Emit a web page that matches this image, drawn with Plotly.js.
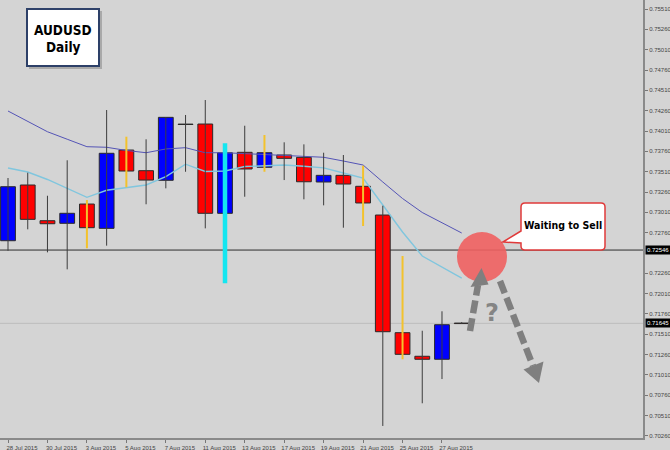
<!DOCTYPE html>
<html><head><meta charset="utf-8">
<script src="https://cdn.plot.ly/plotly-3.0.1.min.js"></script>
<style>html,body{margin:0;padding:0;background:#d4d4d4;}#chart{width:670px;height:450px;}</style>
</head><body><div id="chart"></div>
<script>
// ---- data ----
const dates = ['28 Jul 2015','29 Jul 2015','30 Jul 2015','31 Jul 2015','3 Aug 2015','4 Aug 2015','5 Aug 2015','6 Aug 2015','7 Aug 2015','10 Aug 2015','11 Aug 2015','12 Aug 2015','13 Aug 2015','14 Aug 2015','17 Aug 2015','18 Aug 2015','19 Aug 2015','20 Aug 2015','21 Aug 2015','24 Aug 2015','25 Aug 2015','26 Aug 2015','27 Aug 2015','28 Aug 2015'];
const open  = [0.72661,0.73346,0.72907,0.72875,0.73112,0.72813,0.73776,0.73522,0.73404,0.74095,0.74096,0.72998,0.73748,0.73564,0.73715,0.73686,0.73383,0.73465,0.73330,0.72977,0.71530,0.71240,0.71203,0.71648];
const high  = [0.73432,0.73497,0.73214,0.73650,0.73161,0.74268,0.73940,0.73908,0.74182,0.74207,0.74391,0.73859,0.74075,0.73961,0.73871,0.73846,0.73743,0.73715,0.73583,0.73091,0.72473,0.71554,0.71793,0.71660];
const low   = [0.72538,0.72801,0.72518,0.72309,0.72568,0.72600,0.73318,0.73109,0.73305,0.73509,0.72813,0.72137,0.73202,0.73509,0.73407,0.73170,0.73096,0.72821,0.72842,0.70383,0.71203,0.70662,0.70960,0.71640];
const close = [0.73325,0.72924,0.72870,0.72998,0.72821,0.73736,0.73518,0.73407,0.74178,0.74090,0.72998,0.73743,0.73543,0.73743,0.73674,0.73386,0.73465,0.73358,0.73125,0.71542,0.71264,0.71203,0.71628,0.71642];
const maSlow = [0.74256,0.74124,0.74001,0.73909,0.73817,0.73810,0.73771,0.73743,0.73789,0.73805,0.73743,0.73743,0.73733,0.73723,0.73715,0.73700,0.73687,0.73641,0.73592,0.73383,0.73180,0.73008,0.72885,0.72756];
const maFast = [0.73555,0.73506,0.73414,0.73309,0.73195,0.73281,0.73316,0.73346,0.73450,0.73602,0.73512,0.73518,0.73573,0.73583,0.73592,0.73576,0.73557,0.73493,0.73432,0.73100,0.72768,0.72473,0.72338,0.72202];
const yellowWickBars = [4,6,13,18,20];
const cyanWickBars = [11];
const levels = [0.72546, 0.71645];
const yTicks = [0.70260,0.70510,0.70760,0.71010,0.71260,0.71510,0.71760,0.72010,0.72260,0.72760,0.73010,0.73260,0.73510,0.73760,0.74010,0.74260,0.74510,0.74760,0.75010,0.75260,0.75510];
const xTickIdx = [0,2,4,6,8,10,12,14,16,18,20,22];
const titleLines = ['AUDUSD','Daily'];
const calloutText = 'Waiting to Sell';

// ---- build ----
const idx = dates.map((d,i)=>i);
function wickTrace(bars, color, width){
  const xs=[], ys=[];
  bars.forEach(i=>{ xs.push(i,i,null); ys.push(low[i],high[i],null); });
  return {type:'scatter', mode:'lines', x:xs, y:ys, line:{color:color, width:width}, hoverinfo:'skip', showlegend:false};
}
const highlighted = yellowWickBars.concat(cyanWickBars);
const plainBars = idx.filter(i=>highlighted.indexOf(i)<0);
const bodyBase = idx.map(i=>Math.min(open[i],close[i]));
const bodyH = idx.map(i=>Math.max(Math.abs(close[i]-open[i]),0.00003));
const bodyCol = idx.map(i=> close[i]>open[i] ? '#0000ff' : (close[i]<open[i] ? '#ff0000' : '#222'));

const traces = [
  {type:'scatter', mode:'lines', x:idx, y:maSlow, line:{color:'#5454b6', width:1}, hoverinfo:'skip', showlegend:false},
  {type:'scatter', mode:'lines', x:idx, y:maFast, line:{color:'#80c6de', width:1.4}, hoverinfo:'skip', showlegend:false},
  wickTrace(plainBars, '#3c3c3c', 1),
  {type:'bar', x:idx, base:bodyBase, y:bodyH, width:0.75, marker:{color:bodyCol, line:{color:'#2a2a2a', width:1}}, hoverinfo:'skip', showlegend:false},
  wickTrace(yellowWickBars, '#f3c22c', 2),
  wickTrace(cyanWickBars, '#14e6f0', 4.5)
];

// pixel helpers for decorations (plot area 643 x 438)
const PW=643, PH=438;
const fx = v => v/PW, fy = v => 1 - v/PH;

const shapes = [];
levels.forEach((lv,k)=>{
  shapes.push({type:'line', xref:'paper', x0:0, x1:1, yref:'y', y0:lv, y1:lv, line:{color: k===0?'#2e2e2e':'#bcbcbc', width:1}, layer:'below'});
});
// title box with shadow
shapes.push({type:'rect', xref:'paper', yref:'paper', x0:fx(29), x1:fx(102), y0:fy(69), y1:fy(11), fillcolor:'rgba(90,90,90,0.35)', line:{width:0}});
shapes.push({type:'rect', xref:'paper', yref:'paper', x0:fx(27), x1:fx(99), y0:fy(66), y1:fy(9), fillcolor:'#ffffff', line:{color:'#2d4068', width:2}});
// circle
shapes.push({type:'circle', xref:'paper', yref:'paper', x0:fx(457), x1:fx(507), y0:fy(282), y1:fy(232), fillcolor:'rgba(240,96,96,0.9)', line:{width:0}});
// callout
function P(a,b){ return fx(a)+','+fy(b); }
const r=4;
const cpath = 'M '+P(521+r,203)+' L '+P(605-r,203)+' Q '+P(605,203)+' '+P(605,203+r)+
  ' L '+P(605,250-r)+' Q '+P(605,250)+' '+P(605-r,250)+' L '+P(521+r,250)+' Q '+P(521,250)+' '+P(521,250-r)+
  ' L '+P(521,243)+' L '+P(503,242)+' L '+P(521,231)+' L '+P(521,203+r)+' Q '+P(521,203)+' '+P(521+r,203)+' Z';
shapes.push({type:'path', xref:'paper', yref:'paper', path:cpath, fillcolor:'#ffffff', line:{color:'#e03a3a', width:1.5}});
// dashed arrows
const gray='#7f7f7f';
shapes.push({type:'line', xref:'paper', yref:'paper', x0:fx(470), y0:fy(331), x1:fx(478), y1:fy(285), line:{color:gray, width:6.5, dash:'13px,5px'}});
shapes.push({type:'path', xref:'paper', yref:'paper', path:'M '+P(481.5,268)+' L '+P(470.5,287)+' L '+P(488.5,284.5)+' Z', fillcolor:gray, line:{width:0}});
shapes.push({type:'line', xref:'paper', yref:'paper', x0:fx(500), y0:fy(281), x1:fx(533), y1:fy(366), line:{color:gray, width:6.5, dash:'13px,5px'}});
shapes.push({type:'path', xref:'paper', yref:'paper', path:'M '+P(539,383)+' L '+P(523.5,369.5)+' L '+P(543.5,361.5)+' Z', fillcolor:gray, line:{width:0}});

const heavy = "'Liberation Sans Narrow','DejaVu Sans Condensed',sans-serif";
const annotations = [
  {xref:'paper', yref:'paper', x:fx(63), y:fy(30), xanchor:'center', yanchor:'middle', text:'<b>'+titleLines[0]+'</b>', showarrow:false, font:{family:heavy, size:13.5, color:'#000'}},
  {xref:'paper', yref:'paper', x:fx(63), y:fy(47), xanchor:'center', yanchor:'middle', text:'<b>'+titleLines[1]+'</b>', showarrow:false, font:{family:heavy, size:13.5, color:'#000'}},
  {xref:'paper', yref:'paper', x:fx(563), y:fy(225), xanchor:'center', yanchor:'middle', text:'<b>'+calloutText+'</b>', showarrow:false, font:{family:heavy, size:10.5, color:'#000'}},
  {xref:'paper', yref:'paper', x:fx(492), y:fy(313), xanchor:'center', yanchor:'middle', text:'<b>?</b>', showarrow:false, font:{family:"'DejaVu Sans',sans-serif", size:24, color:'#858585'}}
];
levels.forEach(lv=>{
  annotations.push({xref:'paper', yref:'y', x:1, y:lv, xanchor:'left', yanchor:'middle', xshift:2, text:lv.toFixed(5), showarrow:false,
    bgcolor:'#000', borderpad:1, font:{family:"'Liberation Sans',sans-serif", size:6, color:'#fff'}});
});

const layout = {
  width:670, height:450,
  margin:{l:0, r:27, t:0, b:12, pad:0},
  paper_bgcolor:'#d4d4d4', plot_bgcolor:'#d4d4d4',
  showlegend:false, bargap:0,
  xaxis:{range:[-0.406, 32.19], tickvals:xTickIdx, ticktext:xTickIdx.map(i=>dates[i]), ticks:'outside', ticklen:3, tickcolor:'#777',
    tickfont:{family:"'Liberation Sans',sans-serif", size:6, color:'#444'}, ticklabelshift:14, ticklabelstandoff:0,
    showgrid:false, zeroline:false, showline:true, linecolor:'#8a8a8a', linewidth:1.5, fixedrange:true},
  yaxis:{range:[0.70235, 0.75621], side:'right', tickvals:yTicks, ticktext:yTicks.map(v=>v.toFixed(5)), ticks:'outside', ticklen:3, tickcolor:'#777',
    tickfont:{family:"'Liberation Sans',sans-serif", size:6, color:'#444'}, showgrid:false, zeroline:false, showline:true, linecolor:'#8a8a8a', linewidth:2, fixedrange:true},
  shapes:shapes, annotations:annotations
};
Plotly.newPlot('chart', traces, layout, {staticPlot:true, displayModeBar:false});
</script>
</body></html>
